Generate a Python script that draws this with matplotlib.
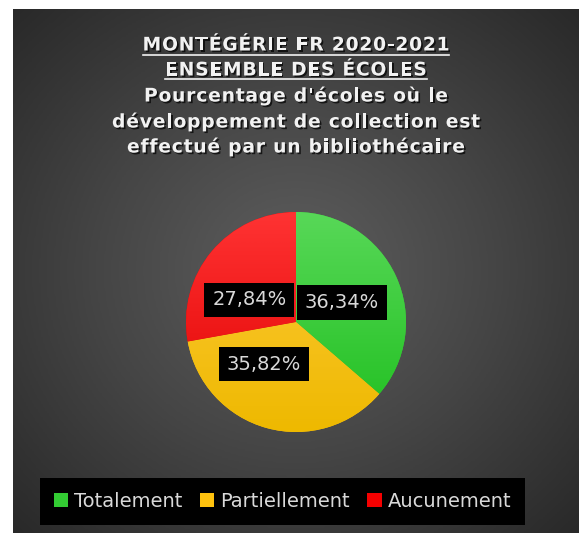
import numpy as np
import matplotlib
matplotlib.use("Agg")
import matplotlib.pyplot as plt
import matplotlib.patheffects as pe
from matplotlib.colors import LinearSegmentedColormap
from matplotlib.font_manager import FontProperties
from matplotlib.patches import Patch

W, H = 585, 533

categories = ["Totalement", "Partiellement", "Aucunement"]
values = [36.34, 35.82, 27.84]
title_lines = [
    "MONTÉGÉRIE FR 2020-2021",
    "ENSEMBLE DES ÉCOLES",
    "Pourcentage d'écoles où le",
    "développement de collection est",
    "effectué par un bibliothécaire",
]

# top / bottom colours of each slice gradient
slice_top = ["#58d858", "#ffca3c", "#ff3333"]
slice_bottom = ["#1fbf1f", "#eeb900", "#e00000"]
slice_mid = ["#33cc33", "#ffc20e", "#f50000"]


def fx(px):
    return px / W


def fy(py):
    return 1 - py / H


fig = plt.figure(figsize=(W / 100, H / 100), dpi=100)
fig.patch.set_facecolor("white")

# dark radial background
bg = fig.add_axes([fx(13), 0, fx(579) - fx(13), fy(9)])
yy, xx = np.mgrid[-1:1:300j, -1:1:300j]
r = np.sqrt(xx ** 2 + yy ** 2) / np.sqrt(2)
bg_cmap = LinearSegmentedColormap.from_list("bg", ["#5e5e5e", "#454545", "#292929"])
bg.imshow(r, cmap=bg_cmap, aspect="auto", extent=[0, 1, 0, 1])
bg.set_axis_off()

# pie
R = 110
side = 2.4 * R
cx, cy = 296, 322
ax = fig.add_axes([fx(cx - side / 2), fy(cy + side / 2), side / W, side / H])
wedges, texts, autotexts = ax.pie(
    values,
    colors=slice_mid,
    startangle=90,
    counterclock=False,
    autopct=lambda p: f"{p:.2f}%".replace(".", ","),
    pctdistance=0.5,
    wedgeprops=dict(linewidth=0),
    textprops=dict(color="#d9d9d9", fontsize=14),
)
grad = np.linspace(0, 1, 256).reshape(-1, 1)
for w, top, bot in zip(wedges, slice_top, slice_bottom):
    cm = LinearSegmentedColormap.from_list("s", [top, bot])
    im = ax.imshow(grad, cmap=cm, extent=[-1, 1, -1, 1], aspect="auto", zorder=2)
    im.set_clip_path(w)

# label nudges (data units) to mimic the spreadsheet's best-fit placement
label_nudge = [(-0.04, -0.03), (-0.16, 0.10), (-0.04, -0.12)]
for t, (dx, dy) in zip(autotexts, label_nudge):
    x, y = t.get_position()
    t.set_position((x + dx, y + dy))
    t.set_zorder(5)
    t.set_bbox(dict(boxstyle="square,pad=0.4", facecolor="black", edgecolor="none"))
ax.set_xlim(-1.2, 1.2)
ax.set_ylim(-1.2, 1.2)
ax.set_aspect("equal")
ax.set_axis_off()

# title, drawn letter by letter to get the wide tracking
shadow = [pe.withSimplePatchShadow(offset=(1.2, -1.2), shadow_rgbFace="black", alpha=0.7)]
line_y = [45, 70, 96, 122, 147]
tracking = 0.75  # extra px between letters
prop = FontProperties(family="DejaVu Sans", weight="bold", size=13.5)
fig.canvas.draw()
renderer = fig.canvas.get_renderer()


def text_w(s):
    return renderer.get_text_width_height_descent(s, prop, ismath=False)[0]


bar_w = text_w("|")
line_extent = []
for txt, y in zip(title_lines, line_y):
    offs = [text_w(txt[:i] + "|") - bar_w + i * tracking for i in range(len(txt))]
    total = text_w(txt) + (len(txt) - 1) * tracking
    x0 = 296 - total / 2
    for ch, o in zip(txt, offs):
        if ch == " ":
            continue
        fig.text(fx(x0 + o), fy(y), ch, ha="left", va="center", fontproperties=prop,
                 color="#f2f2f2", path_effects=shadow)
    line_extent.append((x0, x0 + total))

for (x0, x1), y in zip(line_extent[:2], [55, 79]):
    fig.add_artist(plt.Line2D([fx(x0), fx(x1)], [fy(y), fy(y)], color="#f2f2f2",
                              linewidth=1.2, transform=fig.transFigure,
                              path_effects=shadow))

# legend
handles = [Patch(facecolor=c, edgecolor="none") for c in slice_mid]
leg = fig.legend(handles, categories, loc="center", ncol=3,
                 bbox_to_anchor=(fx(282.5), fy(501.5)), frameon=True,
                 facecolor="black", edgecolor="none", framealpha=1, fancybox=False,
                 fontsize=14, handlelength=0.75, handleheight=0.75,
                 handletextpad=0.3, columnspacing=0.9, borderpad=0.7)
for txt in leg.get_texts():
    txt.set_color("#d9d9d9")

fig.savefig("out.png", dpi=100)
